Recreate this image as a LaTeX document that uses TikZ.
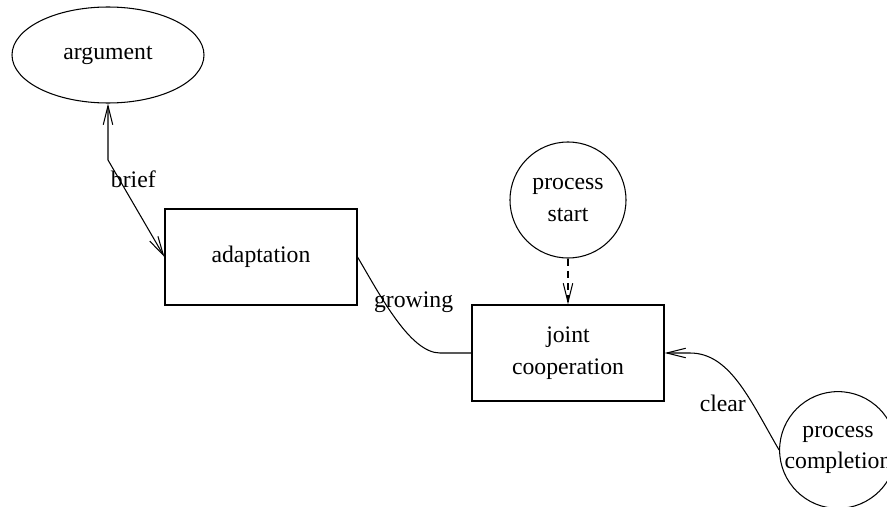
\documentclass[tikz,border=0pt]{standalone}
\usepackage{fontspec}
\setmainfont{Liberation Serif}
\usetikzlibrary{arrows.meta,shapes.geometric}

\begin{document}
\begin{tikzpicture}[>={Straight Barb[length=3.8mm,width=1.9mm]}, line width=0.6pt,
    font=\fontsize{13.5}{18}\selectfont,
    box/.style={draw, rectangle, minimum width=3.84cm, minimum height=1.92cm, align=center},
    oval/.style={draw, ellipse, minimum width=3.84cm, minimum height=1.92cm, inner sep=0pt},
    round/.style={draw, circle, minimum size=2.32cm, inner sep=0pt, align=center}]
    \useasboundingbox (0,0) rectangle (17.74,10.12);

    % States
    \node[oval] (argument) at (2.16,9.02) {argument};
    \node[box] (adaptation) at (5.22,4.98) {adaptation};
    \node[box] (joint) at (11.36,3.06) {joint\\cooperation};
    \node[round] (start) at (11.36,6.12) {process\\start};
    \node[round] (completion) at (16.76,1.12) {process\\completion};
    \coordinate (bend) at (2.16,6.92);

    % Transitions
    \draw[<->] (argument.south) -- (bend) -- node[pos=0.2, xshift=8pt] {brief} (adaptation.west);
    \draw (adaptation.east) .. controls (7.6,4.22) and (8.2,3.06) .. node[pos=0.4, xshift=0.52cm, yshift=0.1cm] {growing} (8.8,3.06) -- (joint.west);
    \draw[->, dash pattern=on 4pt off 3pt] (start) -- (joint);
    \draw[->] (completion.west) .. controls (15.0,2.12) and (14.6,3.06) .. node[pos=0.33, left] {clear} (13.8,3.06) -- (joint.east);
\end{tikzpicture}
\end{document}
